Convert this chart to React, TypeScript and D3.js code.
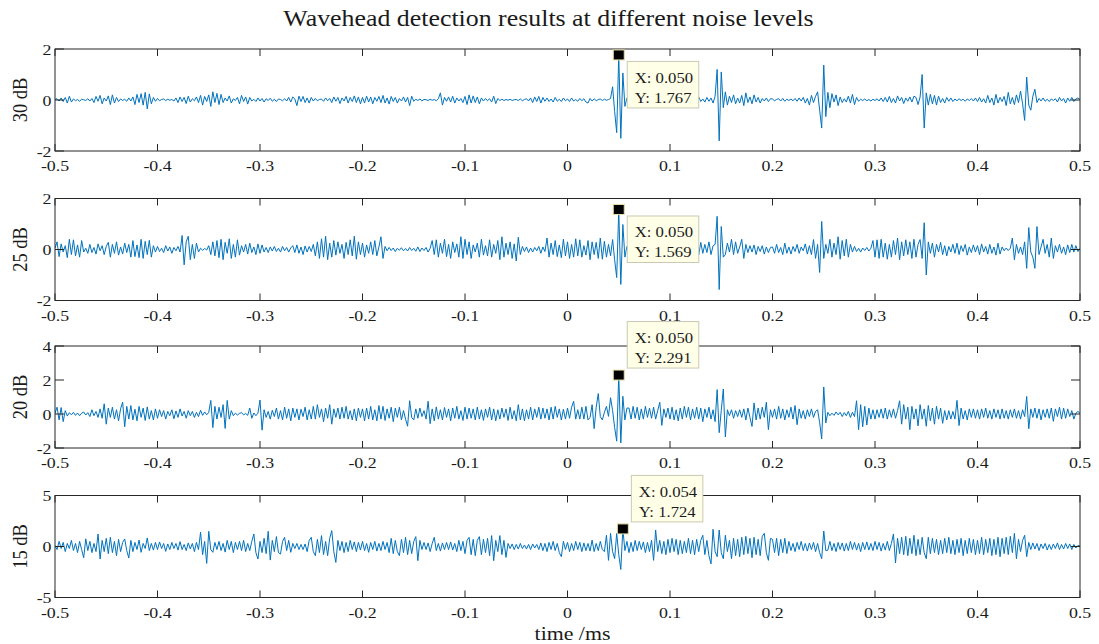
import React from "react";
import * as d3 from "d3";

const TITLE = "Wavehead detection results at different noise levels";
const X_LABEL = "time /ms";
const PANEL_LABELS = ["30 dB", "25 dB", "20 dB", "15 dB"];
const X_TICKS = [-0.5, -0.4, -0.3, -0.2, -0.1, 0, 0.1, 0.2, 0.3, 0.4, 0.5];
const X_TICK_LABELS = ["-0.5", "-0.4", "-0.3", "-0.2", "-0.1", "0", "0.1", "0.2", "0.3", "0.4", "0.5"];
const Y_DOMAINS = [[-2, 2], [-2, 2], [-2, 4], [-5, 5]];
const Y_TICKS = [[-2, 0, 2], [-2, 0, 2], [-2, 0, 2, 4], [-5, 0, 5]];
const T_START = -0.5;
const T_STEP = 0.002;

const S30 = [
.02,.05,-.04,.08,-.06,.1,-.12,.15,-.08,.04,
-.03,.02,-.05,.03,.01,-.02,.05,-.04,.06,-.1,
.14,-.05,.18,-.15,.08,-.04,.16,-.18,.2,-.12,
.1,-.06,.04,-.02,.03,-.05,.08,-.04,.12,-.18,
.22,-.1,.25,-.2,.3,-.35,.24,-.15,.1,-.05,
.06,-.03,.02,.04,-.02,.03,-.01,.02,-.04,.08,
-.1,.12,-.06,.1,-.14,.15,-.08,.05,-.03,.12,
-.1,.18,-.2,.14,-.06,.2,-.25,.32,-.1,.26,
-.18,.22,-.1,.08,-.04,.16,-.12,.05,-.02,.1,
-.15,.18,-.06,.12,-.16,.1,-.04,.03,-.06,.08,
-.04,.06,-.08,.05,-.02,.07,-.05,.03,-.06,.04,
.02,-.03,.05,-.04,.1,-.08,.12,.04,-.22,.15,
-.06,.14,-.1,.08,-.12,.1,-.04,.06,-.03,.02,
.04,-.05,.08,-.03,.06,-.1,.12,-.05,.1,-.14,
.08,-.04,.14,-.12,.1,-.06,.16,-.1,.12,-.15,
.1,-.12,.15,-.08,.12,-.15,.1,-.05,.14,-.1,
.18,-.12,.08,-.16,.14,-.06,.1,-.12,.06,-.04,
.12,-.08,.1,-.22,.15,-.05,.03,-.02,.04,-.03,
.02,.01,-.02,.03,-.01,.02,-.03,.05,.28,-.2,
.1,-.05,.12,-.08,.15,-.12,.08,-.04,.06,-.1,
.14,-.18,.2,-.12,.16,-.1,.12,-.15,.08,-.04,
.06,-.03,.05,-.08,.15,-.14,.06,-.02,.03,-.02,
.02,-.01,.03,-.02,.01,.02,-.02,.04,-.03,.02,
.05,-.04,.08,-.1,.12,-.06,.14,-.12,.1,-.05,
.08,-.06,.04,-.08,.1,-.05,.03,-.06,.08,-.03,
.04,-.06,.08,-.04,.02,-.05,.06,-.03,.05,-.08,
-.12,.06,-.04,.05,-.03,.02,.04,-.02,.03,-.01,
.02,.06,.52,-.45,-1.28,1.767,-1.5,1.06,-.25,.08,
.1,-.08,.06,-.12,.1,-.05,.08,-.1,.12,-.06,
.04,-.08,.1,-.04,.06,-.1,.08,-.05,.04,-.02,
.06,-.04,.08,-.1,.05,-.02,.04,-.06,.1,-.08,
.05,-.03,.06,-.1,.12,-.06,.04,-.08,.1,-.05,
.08,-.12,.15,1.2,-1.6,1.1,-.3,.32,-.2,.15,
-.1,.2,-.15,.08,-.12,.18,-.22,.28,-.1,.12,
-.15,.2,-.08,.1,-.12,.06,-.04,.08,-.06,.05,
.04,-.03,.02,.05,-.04,.06,-.05,.03,-.02,.04,
-.03,.06,-.05,.08,-.04,.1,-.12,.06,-.2,.18,
-.1,.14,.32,-.4,-1.1,1.37,-.65,.3,-.3,.25,
-.08,.2,-.22,.12,-.1,.05,-.08,.15,-.12,.22,
-.18,.1,-.05,.03,-.02,.04,-.03,.02,-.04,.03,
-.02,.05,-.04,.08,-.06,.1,-.08,.14,-.1,.06,
-.12,.16,-.04,.1,-.14,.08,-.05,.12,-.08,.15,
.1,-.18,.12,1.0,-1.1,.28,-.2,.22,-.15,.18,
-.2,.15,-.1,.06,-.12,.1,-.05,.08,-.06,.04,
-.03,.05,-.02,.03,-.05,.04,-.02,.06,-.04,.08,
-.06,.1,-.08,.05,-.12,.18,-.1,.08,-.2,.22,
-.12,.1,-.06,.14,-.22,.3,-.15,.1,-.18,.2,
-.1,.35,-.15,-.8,.9,-.2,-.4,.15,.42,-.1,
.06,-.04,.08,-.05,.03,-.06,.04,-.02,.05,-.08,
.1,-.04,.06,-.12,.08,-.05,.1,-.06,.04,.08,
.02
];

const S25 = [
.05,.3,-.28,.22,-.1,.15,-.32,.4,-.2,.38,
-.25,.18,-.3,.35,-.1,.05,-.15,.2,-.12,.08,
-.18,.22,-.05,.15,-.2,.12,.28,-.3,.2,-.15,
.3,-.22,.1,-.18,.25,-.12,.2,-.3,.35,-.28,
.18,-.32,.4,-.35,.32,-.2,.36,-.3,.15,-.1,
.12,-.08,.05,-.12,.15,-.06,.1,-.15,.08,-.05,
.12,-.1,.55,-.6,.3,.52,-.4,.2,-.35,.25,
-.1,.05,-.03,.04,-.02,.15,-.2,.3,-.25,.35,
-.32,.4,-.4,.28,-.15,.42,-.35,.2,-.3,.38,
-.22,.15,-.1,.2,-.18,.25,-.12,.1,-.2,.22,
-.15,.18,-.1,.08,-.12,.1,-.06,.12,-.08,.05,
-.1,.12,-.05,.08,-.1,.06,.15,-.12,.18,-.15,
.1,-.2,.14,-.1,.12,-.08,.2,-.25,.3,-.35,
.42,-.3,.52,-.4,.25,-.3,.35,-.22,.3,-.15,
.2,-.35,.28,-.2,.38,-.25,.52,-.38,.3,-.2,
.25,-.3,.18,-.15,.3,-.2,.35,-.25,.1,.5,
-.35,.12,-.05,.08,-.04,.06,-.08,.05,-.03,.07,
-.05,.04,-.06,.08,-.04,.05,-.07,.1,-.08,.06,
-.04,.08,-.1,.05,.35,-.2,.38,-.3,.25,-.15,
.4,-.28,.2,-.35,.3,-.12,.22,-.3,.5,-.35,
.4,-.2,.3,-.35,.18,-.1,.25,-.3,.4,-.22,
.15,-.25,.38,-.3,.2,-.15,.35,-.4,.5,-.3,
.25,-.2,.3,-.35,.22,-.45,.48,-.2,.12,-.08,
.1,-.12,.06,-.1,.08,-.05,.12,-.15,.1,-.08,
.45,-.3,.25,-.2,.35,-.28,.18,-.32,.4,-.25,
.3,-.35,.2,-.3,.42,-.25,.38,-.3,.15,-.22,
.35,-.4,.3,-.2,.28,-.35,.45,-.38,.32,-.3,
.2,-.25,.39,-.4,-1.1,1.569,-1.37,.98,-.3,.12,
-.1,.15,-.2,.25,-.15,.1,-.22,.28,-.18,.12,
-.25,.2,-.1,.15,-.2,.3,-.25,.18,-.12,.2,
-.15,.22,-.3,.18,-.12,.25,-.2,.3,-.28,.15,
-.1,.2,-.18,.12,-.22,.28,-.15,.2,-.12,.3,
-.2,.15,.2,1.3,-1.57,.9,-.3,-.2,.25,-.1,
.4,-.2,.3,-.15,.1,.4,-.35,.2,-.12,.15,
-.1,.18,-.2,.12,-.08,.15,-.18,.1,-.12,.08,
.1,-.15,.2,-.12,.08,-.2,.25,-.15,.1,-.18,
.12,-.08,.2,-.15,.1,-.05,.22,-.18,.15,-.2,
.39,-.35,.2,-.9,1.1,-.35,.2,-.15,.4,-.3,
.25,-.2,.5,-.38,.35,-.25,.4,-.3,.2,-.1,
.12,-.08,.05,-.1,.06,-.04,.08,-.06,.05,.35,
-.3,.38,-.35,.4,-.3,.25,-.38,.2,-.3,.35,
-.2,.45,-.4,.3,-.25,.38,-.2,.3,-.35,.4,
-.3,.2,.39,-.35,1.05,-1.0,.3,-.15,.25,-.3,
.2,-.1,.28,-.2,.15,-.25,.12,-.1,.2,-.15,
.25,-.2,.15,-.08,.2,-.22,.1,-.12,.18,-.1,
.15,-.2,.22,-.1,.12,-.18,.2,-.15,.1,-.22,
.25,-.18,.1,-.05,.06,-.04,.05,.45,-.4,.2,
-.15,.1,-.2,.3,-.74,.86,-.1,-.3,-.74,.9,
-.2,.1,.4,-.15,.2,-.3,.45,-.35,.15,-.1,
.2,-.15,.1,-.2,.18,-.12,.2,-.1,.15,-.08,
.05
];

const S20 = [
.05,.4,-.35,.38,-.45,.2,-.12,.08,-.05,.1,
-.08,.06,-.1,.05,.12,-.06,.08,-.15,.25,-.1,
.15,-.2,.3,-.25,.6,-.6,.35,-.2,.4,-.3,
.25,-.4,.3,.7,-.75,.45,-.3,.5,-.35,.28,
-.4,.45,-.2,.35,-.38,.42,-.3,.2,-.35,.3,
-.25,.25,-.15,.2,-.3,.15,-.1,.25,-.28,.18,
-.2,.3,-.12,.15,-.25,.2,-.1,.15,-.2,.1,
-.15,.22,-.08,.12,-.05,.1,.8,-.8,.45,-.3,
.4,-.2,.55,-.85,.8,-.3,.2,-.1,.05,-.06,
.04,.08,-.05,.03,-.08,.35,-.25,.06,-.1,.05,
.82,-.95,.25,-.2,.15,-.3,.22,-.15,.35,-.3,
.2,-.35,.4,-.25,.3,-.4,.35,-.2,.3,-.35,
.28,-.15,.4,-.35,.25,-.3,.45,-.3,.55,-.2,
.3,-.45,.35,-.25,.55,-.6,.3,-.2,.35,-.3,
.4,-.25,.45,-.3,.2,-.35,.3,-.4,.35,-.2,
.3,-.4,.35,-.3,.45,-.35,.25,-.4,.5,-.3,
.45,-.38,.3,-.25,.4,-.45,.35,-.2,.4,-.35,
.2,-.3,-.72,.78,-.2,-.35,.3,-.25,.35,-.15,
.2,-.3,.75,-.57,.3,-.4,.42,-.3,.25,-.35,
.38,-.2,.3,-.4,.35,-.25,.45,-.3,.2,-.38,
.4,-.3,.35,-.25,.3,-.35,.4,-.3,.25,-.38,
.3,-.2,.4,-.35,.3,-.4,.25,-.3,.35,-.2,
.3,-.38,.4,-.3,.2,-.4,.55,-.35,.3,-.4,
.25,-.3,.4,-.35,.3,-.2,.4,-.3,.35,-.25,
.3,-.35,.4,-.3,.45,-.2,.3,-.35,.28,-.3,
.35,-.25,.4,.75,-.3,.25,-.3,.4,-.3,.45,
-.35,-.2,.55,-.86,.4,1.2,-.15,-.35,.1,.45,
-.14,.96,.2,-.8,-1.6,2.291,-1.7,1.04,-.35,.35,
.35,-.3,.45,-.25,.4,-.35,.3,-.3,.45,-.2,
.35,-.25,.4,-.3,.2,.69,-.67,.3,-.2,.35,
-.3,.4,-.35,.25,-.4,.35,-.3,.45,-.2,.4,
-.35,.3,-.25,.4,-.3,.35,-.45,.3,-.2,.4,
-.3,.25,-.45,1.43,-1.1,.2,1.47,-1.35,.25,-.1,
.25,-.25,.2,-.15,.25,-.2,.3,-.35,.35,-.2,
-.73,.65,-.35,.35,-.3,.4,-.2,.69,-.92,.25,
-.2,.3,-.3,.45,-.25,.3,-.35,.25,-.2,.4,
-.3,.5,-.63,.3,-.25,.2,-.3,.25,-.15,.3,
-.2,.15,.25,-.5,-1.47,1.59,-.53,.1,-.1,.05,
-.08,.12,-.05,.1,-.15,.08,-.1,.15,-.2,.1,
-.15,.78,-.92,.55,-.75,.45,-.65,.35,-.3,.25,
-.3,.25,-.2,.3,-.25,.35,-.3,.25,-.2,.3,
-.25,.2,.78,-.6,.55,-.3,.4,-.92,.45,-.3,
.3,-.7,.55,-.3,.3,-.72,.5,-.4,.35,-.6,
.45,-.3,.35,-.55,.2,-.35,.2,-.3,.15,-.3,
.8,-.68,.35,-.3,.2,-.35,.3,-.2,.3,-.25,
.25,-.3,.3,-.2,.35,-.25,.2,-.3,.3,-.2,
.25,-.3,.3,-.25,.2,-.3,.25,-.2,.3,-.25,
.2,-.3,.25,-.15,1.03,-.87,.3,-.2,.35,-.25,
.3,-.35,.25,-.2,.3,-.25,.35,-.43,.3,-.15,
.4,-.3,.35,-.25,.3,-.15,.2,-.3,.05,.15,
.05
];

const S15 = [
.1,-.3,.5,-.2,.4,-.5,.3,-.2,.6,-.4,
.3,-.6,.5,-.3,-1.1,.75,-.4,.5,-.6,.3,
-.5,1.23,-1.23,.6,-.5,.8,-.7,.9,-.6,.5,
-.9,.7,-.5,.4,.74,-.4,-1.13,.6,-.5,.4,
-.3,.64,-.57,.3,-.2,.84,-.4,.3,-.35,.4,
-.3,.45,-.2,.3,-.48,.25,-.3,.4,-.2,.3,
-.35,.48,-.3,.2,-.4,.35,-.25,.3,-.5,.4,
-.3,1.4,-.8,.5,-1.66,1.49,-.3,-.57,.4,-.3,
.5,-.4,.3,-.55,.6,-.3,.5,-.6,.4,-.3,
.5,-.4,.6,-.5,.3,-.4,.5,1.23,-.6,-1.23,
.5,-.6,.8,-.7,1.49,-1.33,.6,-.5,.97,-.6,
-.74,.5,.9,-.4,.6,-.57,.3,-.2,.3,-.3,
.2,-.3,.25,-.5,.6,.9,-.5,-.9,.7,-.6,
1.07,-.8,.5,-.9,.8,1.56,-.5,-1.56,.6,-.4,
.5,-.6,.4,-.5,.6,-.3,.45,-.5,.4,-.35,
.5,-.4,.3,-.57,.4,-.3,.5,-.45,.3,-.4,
.5,-.3,.4,-.6,.8,-.7,.6,-.5,-.9,.7,
-.6,.9,-.8,.6,-.7,.5,.97,-1.39,.6,-.3,
.4,-.3,.35,-.5,.3,.9,-.4,.3,-.45,.35,
-.3,.4,-.3,.45,-.35,.3,-.5,.6,-.4,.5,
-.7,.6,.9,-.8,.7,-.9,.6,.97,-.8,.7,
-.6,.8,-.9,1.07,-1.39,.6,-.5,1.07,-.8,.6,
-1.07,.3,-.2,.25,-.3,.2,-.25,.3,-.2,.15,
-.25,.2,-.3,.25,-.15,.2,-.3,.35,-.4,.3,
-.5,.4,-.3,.5,-.4,.3,-.6,-1.0,.5,-.3,
.4,-.5,.3,-.4,.5,-.3,.4,-.5,.35,-.4,
.3,-.45,.63,-.5,.3,-.4,.5,-.3,-.5,1.1,
-1.36,1.29,-.5,-1.19,1.29,-.8,-2.25,1.724,-.4,.5,
-.6,.4,-.5,.6,-.4,.5,-.3,.45,-.6,.4,
-.5,.6,-1.36,1.62,-.5,.6,-.7,.5,-.8,.7,
-.6,.8,-.5,.7,-.8,.6,-.7,.5,-.6,.8,
-.7,.6,-.8,.7,-.5,.6,1.1,-.8,.6,-.9,
-1.7,1.69,-.5,-1.0,1.62,-.6,-1.2,1.1,-.5,.6,
-1.2,.8,-.9,.7,-1.0,.9,-.8,1.0,-.7,.8,
-1.1,.9,-.8,.7,-.9,1.0,1.29,-.6,-1.36,.8,
.7,-.6,.8,-.9,.7,-.6,.8,-.7,.5,-.4,
.3,-.5,.4,-.3,.5,-.4,.3,-.45,.35,-.3,
.4,-.5,.3,-.6,-1.2,1.52,-.4,-.36,.5,-.4,
.3,-.5,.4,-.3,.35,-.45,.3,-.4,.5,-.3,
.4,-.35,.3,-.5,.4,-.3,.45,-.35,.3,-.4,
.5,-.3,.4,-.45,.3,-.35,.5,-.4,.3,1.23,
-1.62,.8,-.7,.9,-.8,1.0,-.9,.8,-.7,1.1,
-.9,.7,-.8,.9,-.6,-1.2,.9,-.7,.8,-.6,
.7,-.8,.6,-.7,.8,-.6,.9,-.7,.6,-.8,
.7,-.6,.8,-.9,.6,-.7,.8,-.6,.7,-.8,
.6,-.7,.9,-.8,.7,-.6,.8,-.9,.7,-.8,
.9,-1.0,.8,-.7,.9,-.8,1.0,-.6,1.29,-1.2,
.7,-.5,.6,1.1,-1.0,.4,-.3,.35,-.25,.3,
-.4,.25,-.2,.3,-.35,.2,-.3,.25,-.2,.35,
-.3,.2,-.25,.3,-.2,.25,-.3,.2,-.15,.1,
.05
];

const TIP_X = [0.050, 0.050, 0.050, 0.054];
const TIP_Y = [1.767, 1.569, 2.291, 1.724];

// ---- layout / style ----
const W = 1099;
const H = 644;
const LEFT = 55;
const RIGHT = 1080;
const PANEL_TOPS = [49, 198.5, 346, 495.5];
const PANEL_H = 102;
const TIP_ABOVE = [false, false, true, true];
const FONT = "'Liberation Serif', 'Times New Roman', Times, serif";
const SX = 1.15; // horizontal text stretch seen in the reference
const AXIS_COLOR = "#262626";
const LINE_COLOR = "#0072BD";

function Txt({ x, y, size, anchor = "start", rotate = 0, children, fill = "#1a1a1a" }: any) {
  const tr = `translate(${x},${y}) scale(${SX},1)` + (rotate ? ` rotate(${rotate})` : "");
  return (
    <text transform={tr} fontSize={size} fontFamily={FONT} textAnchor={anchor} fill={fill}>
      {children}
    </text>
  );
}

export default function App() {
  const x = d3.scaleLinear().domain([-0.5, 0.5]).range([LEFT, RIGHT]);
  const series = [S30, S25, S20, S15];
  const fmt = d3.format(".3f");

  return (
    <svg
      width={W}
      height={H}
      viewBox={`0 0 ${W} ${H}`}
      style={{ position: "absolute", left: 0, top: 0, background: "#ffffff", display: "block" }}
    >
      <rect x={0} y={0} width={W} height={H} fill="#ffffff" />
      <Txt x={548.5} y={26} size={22.5} anchor="middle">{TITLE}</Txt>
      {series.map((data, p) => {
        const top = PANEL_TOPS[p];
        const bottom = top + PANEL_H;
        const y = d3.scaleLinear().domain(Y_DOMAINS[p]).range([bottom, top]);
        const line = d3
          .line<number>()
          .x((_, i) => x(T_START + i * T_STEP))
          .y((d) => y(d));
        const mx = x(TIP_X[p]);
        const my = y(TIP_Y[p]);
        const bw = 71.5;
        const bh = 46.5;
        const bx = mx + 8.5;
        const by = TIP_ABOVE[p] ? my - 7 - bh : my + 6.5;
        return (
          <g key={p}>
            <defs>
              <clipPath id={`clip${p}`}>
                <rect x={LEFT} y={top} width={RIGHT - LEFT} height={PANEL_H} />
              </clipPath>
            </defs>
            <path
              d={line(data) || ""}
              fill="none"
              stroke={LINE_COLOR}
              strokeWidth={1}
              strokeLinejoin="round"
              clipPath={`url(#clip${p})`}
            />
            <rect x={LEFT} y={top} width={RIGHT - LEFT} height={PANEL_H} fill="none" stroke={AXIS_COLOR} strokeWidth={1} />
            {X_TICKS.map((t, k) => (
              <g key={k}>
                <line x1={x(t)} x2={x(t)} y1={top} y2={top + 7} stroke={AXIS_COLOR} strokeWidth={1} />
                <line x1={x(t)} x2={x(t)} y1={bottom} y2={bottom - 7} stroke={AXIS_COLOR} strokeWidth={1} />
                <Txt x={x(t)} y={bottom + 20} size={15.5} anchor="middle">{X_TICK_LABELS[k]}</Txt>
              </g>
            ))}
            {Y_TICKS[p].map((v, k) => (
              <g key={k}>
                <line x1={LEFT} x2={LEFT + 9} y1={y(v)} y2={y(v)} stroke={AXIS_COLOR} strokeWidth={1} />
                <line x1={RIGHT} x2={RIGHT - 9} y1={y(v)} y2={y(v)} stroke={AXIS_COLOR} strokeWidth={1} />
                <Txt x={51.5} y={y(v) + 5.5} size={15.5} anchor="end">{String(v)}</Txt>
              </g>
            ))}
            <Txt x={27} y={(top + bottom) / 2} size={18.5} anchor="middle" rotate={-90}>{PANEL_LABELS[p]}</Txt>
            <rect x={mx - 5.5} y={my - 5} width={11} height={10} fill="#000000" stroke="#e6e0a8" strokeWidth={1} />
            <rect x={bx} y={by} width={bw} height={bh} fill="#ffffe8" stroke="#c9c9b4" strokeWidth={1} />
            <Txt x={bx + 7.5} y={by + 21.5} size={14.5}>{`X: ${fmt(TIP_X[p])}`}</Txt>
            <Txt x={bx + 7.5} y={by + 41.5} size={14.5}>{`Y: ${fmt(TIP_Y[p])}`}</Txt>
          </g>
        );
      })}
      <Txt x={572.5} y={640} size={19} anchor="middle">{X_LABEL}</Txt>
    </svg>
  );
}
